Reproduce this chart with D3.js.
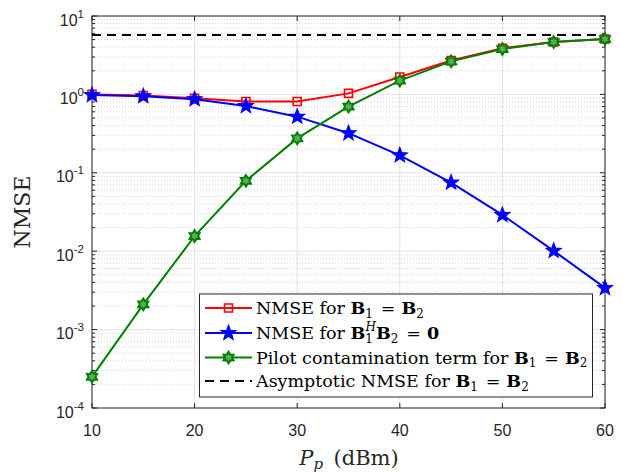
<!DOCTYPE html>
<html>
<head>
<meta charset="utf-8">
<script src="https://cdn.jsdelivr.net/npm/d3@7"></script>
<style>
  body { margin: 0; background: #fff; }
  svg { display: block; }
</style>
</head>
<body>
<div class="chart"></div>
<script>
// P_p (dBm) sample points
const pp = [10, 15, 20, 25, 30, 35, 40, 45, 50, 55, 60];
// NMSE for B1 = B2
const nmseSame = [1.0, 0.97, 0.89, 0.81, 0.81, 1.03, 1.67, 2.7, 3.88, 4.66, 5.1];
// NMSE for B1^H B2 = 0
const nmseOrth = [0.98, 0.95, 0.87, 0.71, 0.52, 0.32, 0.167, 0.075, 0.029, 0.0101, 0.0034];
// pilot contamination term for B1 = B2
const pilotTerm = [2.5e-4, 2.1e-3, 0.0156, 0.079, 0.275, 0.70, 1.5, 2.64, 3.79, 4.66, 5.09];
// asymptotic NMSE (flat)
const asymptote = 5.72;

const xTicks = [10, 20, 30, 40, 50, 60];
const yExps = [-4, -3, -2, -1, 0, 1];

const W = 623, H = 472;
const m = { left: 92, right: 605, top: 16, bottom: 408 };
const axisColor = "#262626";
const serif = "DejaVu Serif, serif";

const svg = d3.select(".chart")
    .append("svg")
    .attr("width", W)
    .attr("height", H);

const x = d3.scaleLinear().domain([10, 60]).range([m.left, m.right]);
const y = d3.scaleLog().domain([1e-4, 1e1]).range([m.bottom, m.top]);

// minor decade values
const minors = [];
yExps.slice(0, -1).forEach(e => {
    for (let k = 2; k <= 9; k++) minors.push(k * Math.pow(10, e));
});

// grid
const grid = svg.append("g");
grid.selectAll(".ymin")
    .data(minors)
    .enter()
    .append("line")
    .attr("x1", m.left).attr("x2", m.right)
    .attr("y1", d => y(d)).attr("y2", d => y(d))
    .attr("stroke", "#c8c8c8")
    .attr("stroke-width", 0.8)
    .attr("stroke-dasharray", "1,2");
grid.selectAll(".ymaj")
    .data(yExps.map(e => Math.pow(10, e)))
    .enter()
    .append("line")
    .attr("x1", m.left).attr("x2", m.right)
    .attr("y1", d => y(d)).attr("y2", d => y(d))
    .attr("stroke", "#e2e2e2")
    .attr("stroke-width", 1);
grid.selectAll(".xmaj")
    .data(xTicks)
    .enter()
    .append("line")
    .attr("x1", d => x(d)).attr("x2", d => x(d))
    .attr("y1", m.top).attr("y2", m.bottom)
    .attr("stroke", "#e2e2e2")
    .attr("stroke-width", 1);

// axes box
svg.append("rect")
    .attr("x", m.left).attr("y", m.top)
    .attr("width", m.right - m.left)
    .attr("height", m.bottom - m.top)
    .attr("fill", "none")
    .attr("stroke", axisColor)
    .attr("stroke-width", 1);

// ticks (inside, both sides)
const ticks = svg.append("g").attr("stroke", axisColor).attr("stroke-width", 1);
xTicks.forEach(v => {
    ticks.append("line").attr("x1", x(v)).attr("x2", x(v)).attr("y1", m.bottom).attr("y2", m.bottom - 5);
    ticks.append("line").attr("x1", x(v)).attr("x2", x(v)).attr("y1", m.top).attr("y2", m.top + 5);
});
yExps.forEach(e => {
    const yy = y(Math.pow(10, e));
    ticks.append("line").attr("x1", m.left).attr("x2", m.left + 5).attr("y1", yy).attr("y2", yy);
    ticks.append("line").attr("x1", m.right).attr("x2", m.right - 5).attr("y1", yy).attr("y2", yy);
});
minors.forEach(v => {
    const yy = y(v);
    ticks.append("line").attr("x1", m.left).attr("x2", m.left + 3).attr("y1", yy).attr("y2", yy);
    ticks.append("line").attr("x1", m.right).attr("x2", m.right - 3).attr("y1", yy).attr("y2", yy);
});

// tick labels
svg.selectAll(".xl")
    .data(xTicks)
    .enter()
    .append("text")
    .attr("x", d => x(d))
    .attr("y", 436)
    .attr("text-anchor", "middle")
    .attr("font-family", "Liberation Sans, Arial, sans-serif")
    .attr("font-size", 16)
    .attr("fill", axisColor)
    .text(d => d);

yExps.forEach(e => {
    const t = svg.append("text")
        .attr("x", 84)
        .attr("y", y(Math.pow(10, e)) + 9.5)
        .attr("text-anchor", "end")
        .attr("font-family", "Liberation Sans, Arial, sans-serif")
        .attr("font-size", 16)
        .attr("fill", axisColor);
    t.append("tspan").text("10");
    t.append("tspan").attr("dy", -8).attr("font-size", 11.5).text(e);
});

// axis labels
svg.append("text")
    .attr("text-anchor", "middle")
    .attr("font-family", serif)
    .attr("font-size", 22)
    .attr("fill", axisColor)
    .attr("transform", "translate(30, 212) rotate(-90)")
    .text("NMSE");

const xl = svg.append("text")
    .attr("x", 349)
    .attr("y", 465)
    .attr("text-anchor", "middle")
    .attr("font-family", serif)
    .attr("font-size", 21)
    .attr("fill", axisColor);
xl.append("tspan").attr("font-style", "italic").text("P");
xl.append("tspan").attr("font-style", "italic").attr("font-size", 15).attr("dy", 4).text("p");
xl.append("tspan").attr("dy", -4).text("\u2002(dBm)");

// asymptote
svg.append("line")
    .attr("x1", x(10)).attr("x2", x(60))
    .attr("y1", y(asymptote)).attr("y2", y(asymptote))
    .attr("stroke", "#000")
    .attr("stroke-width", 2)
    .attr("stroke-dasharray", "9,6");

// marker shapes
const squareSym = d3.symbol().type(d3.symbolSquare).size(64);
function starPath(r, n, inner) {
    const pts = [];
    for (let i = 0; i < 2 * n; i++) {
        const rr = i % 2 === 0 ? r : r * inner;
        const a = -Math.PI / 2 + i * Math.PI / n;
        pts.push([rr * Math.cos(a), rr * Math.sin(a)]);
    }
    return "M" + pts.map(p => p.join(",")).join("L") + "Z";
}
const star5 = starPath(7.8, 5, 0.42);
const hexagram = starPath(5.8, 6, 0.6);

const series = [
    { vals: nmseSame, color: "#ff0000", shape: squareSym(), fill: "none", sw: 1.6 },
    { vals: nmseOrth, color: "#0000ff", shape: star5, fill: "#0000ff", sw: 1.2 },
    { vals: pilotTerm, color: "#008000", shape: hexagram, fill: "#5fa85f", sw: 2 }
];
const line = d3.line().x((d, i) => x(pp[i])).y(d => y(d));

series.forEach(s => {
    svg.append("path")
        .attr("d", line(s.vals))
        .attr("fill", "none")
        .attr("stroke", s.color)
        .attr("stroke-width", 2);
    svg.selectAll(null)
        .data(s.vals)
        .enter()
        .append("path")
        .attr("d", s.shape)
        .attr("transform", (d, i) => `translate(${x(pp[i])},${y(d)})`)
        .attr("fill", s.fill)
        .attr("stroke", s.color)
        .attr("stroke-width", s.sw);
});

// legend
const lg = svg.append("g");
lg.append("rect")
    .attr("x", 199.5).attr("y", 294)
    .attr("width", 393).attr("height", 103)
    .attr("fill", "#fff")
    .attr("stroke", axisColor)
    .attr("stroke-width", 1);

const rows = [308, 333, 357.5, 381];
const legendFont = 17.5;
function B(t, sub, dx) {
    t.append("tspan").attr("font-weight", "bold").attr("dx", dx || 0).text("B");
    t.append("tspan").attr("font-size", 12).attr("dy", 3.5).text(sub);
    t.append("tspan").attr("dy", -3.5).text("\u200a");
}
function eq(t) {
    t.append("tspan").attr("dx", 0.5).text("\u00a0=\u00a0");
}
function label(i) {
    return lg.append("text")
        .attr("x", 256)
        .attr("y", rows[i] + 6)
        .attr("font-family", serif)
        .attr("font-size", legendFont)
        .attr("fill", "#000");
}
series.concat([{ color: "#000", dash: true }]).forEach((s, i) => {
    lg.append("line")
        .attr("x1", 205).attr("x2", 252)
        .attr("y1", rows[i]).attr("y2", rows[i])
        .attr("stroke", s.color)
        .attr("stroke-width", 2)
        .attr("stroke-dasharray", s.dash ? "9,6" : null);
    if (!s.dash) {
        lg.append("path")
            .attr("d", s.shape)
            .attr("transform", `translate(228.5,${rows[i]})`)
            .attr("fill", s.fill)
            .attr("stroke", s.color)
            .attr("stroke-width", s.sw);
    }
});

let t = label(0);
t.append("tspan").text("NMSE for ");
B(t, "1");
eq(t);
B(t, "2", 0.5);

t = label(1);
t.append("tspan").text("NMSE for ");
t.append("tspan").attr("font-weight", "bold").text("B");
t.append("tspan").attr("font-size", 12).attr("dy", 3.5).text("1");
t.append("tspan").attr("font-size", 12).attr("font-style", "italic").attr("dx", -7.5).attr("dy", -11.5).text("H");
t.append("tspan").attr("font-weight", "bold").attr("dy", 8).text("B");
t.append("tspan").attr("font-size", 12).attr("dy", 3.5).text("2");
t.append("tspan").attr("dy", -3.5).text("\u200a");
eq(t);
t.append("tspan").attr("font-weight", "bold").attr("dx", 0.5).text("0");

t = label(2);
t.append("tspan").text("Pilot contamination term for ");
B(t, "1");
eq(t);
B(t, "2", 0.5);

t = label(3);
t.append("tspan").text("Asymptotic NMSE for ");
B(t, "1");
eq(t);
B(t, "2", 0.5);
</script>
</body>
</html>
